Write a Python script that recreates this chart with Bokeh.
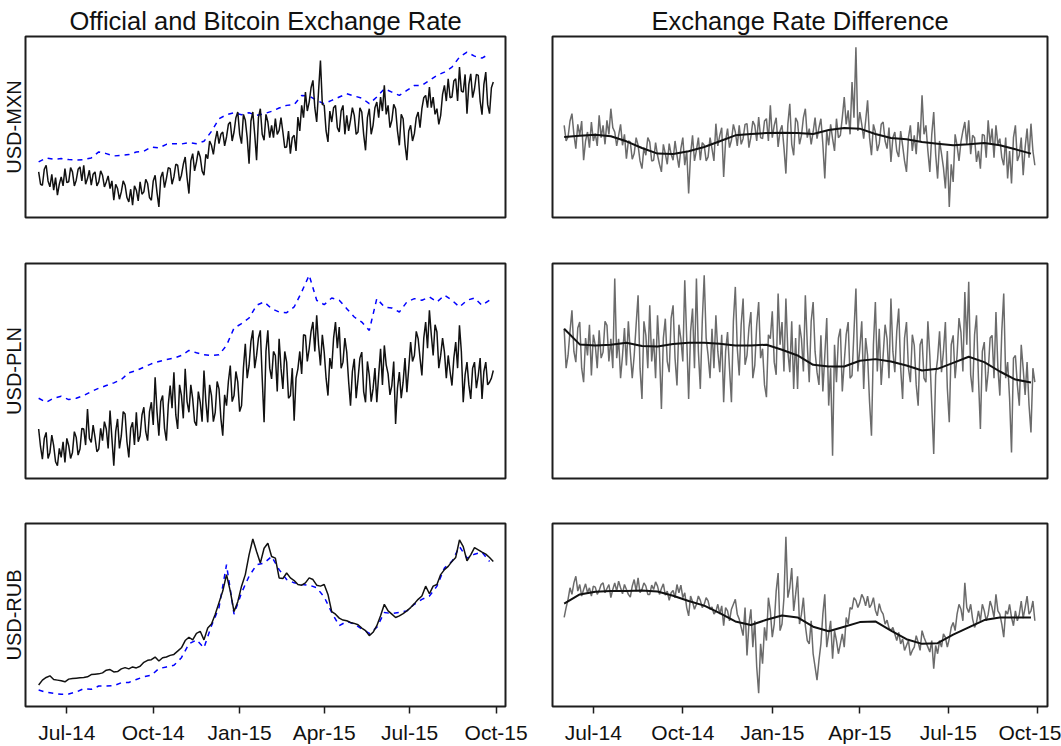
import pandas as pd
from datetime import datetime
from bokeh.plotting import figure
from bokeh.layouts import column, row
from bokeh.models import Range1d, FixedTicker, DatetimeTickFormatter, Title
from bokeh.embed import file_html
from bokeh.resources import INLINE

FONT = "Liberation Sans"

# ---------------- data (arbitrary index units) ----------------
col_titles = ["Official and Bitcoin Exchange Rate", "Exchange Rate Difference"]
pair_names = ["USD-MXN", "USD-PLN", "USD-RUB"]
tick_dates = ["2014-07-01", "2014-10-01", "2015-01-01", "2015-04-01", "2015-07-01", "2015-10-01"]
tick_labels = ["Jul-14", "Oct-14", "Jan-15", "Apr-15", "Jul-15", "Oct-15"]

dates_2d = pd.date_range("2014-06-01", periods=243, freq="2D")
dates_4d = pd.date_range("2014-06-01", periods=122, freq="4D")
dates_8d = pd.date_range("2014-06-01", periods=61, freq="8D")
dates_16d = pd.date_range("2014-06-01", periods=31, freq="16D")

mxn_bitcoin = [137, 100, 97, 145, 157, 110, 92, 130, 82, 120, 67, 100, 122, 95, 147, 105, 107, 150, 137, 95,
               112, 145, 152, 110, 157, 100, 117, 142, 97, 130, 137, 95, 107, 140, 127, 92, 107, 125, 87, 110,
               52, 100, 87, 55, 77, 110, 97, 60, 47, 85, 37, 95, 82, 50, 107, 70, 77, 115, 102, 60,
               52, 110, 127, 75, 32, 120, 137, 90, 117, 150, 147, 100, 122, 160, 157, 110, 127, 160, 182, 120,
               72, 170, 192, 140, 167, 200, 182, 140, 127, 190, 177, 230, 217, 190, 232, 260, 222, 250, 257, 215,
               242, 280, 287, 230, 257, 300, 317, 250, 222, 310, 292, 240, 162, 290, 317, 250, 172, 300, 327, 250,
               232, 310, 287, 240, 277, 240, 297, 250, 262, 300, 257, 210, 212, 260, 192, 240, 247, 200, 302, 260,
               337, 300, 377, 320, 347, 390, 412, 330, 287, 380, 472, 340, 337, 260, 227, 320, 287, 330, 337, 270,
               257, 320, 337, 250, 307, 260, 292, 330, 307, 250, 257, 330, 317, 250, 202, 300, 327, 250, 277, 330,
               347, 300, 362, 320, 397, 310, 337, 270, 292, 340, 327, 260, 217, 310, 297, 220, 172, 260, 277, 230,
               252, 300, 317, 270, 327, 360, 367, 330, 392, 330, 362, 310, 327, 280, 307, 370, 397, 350, 417, 360,
               362, 410, 417, 350, 452, 380, 377, 430, 312, 400, 432, 360, 387, 430, 427, 350, 309, 400, 437, 340,
               312, 390, 407]
mxn_official = [167, 179, 175, 177, 174, 173, 174, 179, 197, 192,
                185, 187, 189, 197, 199, 212, 209, 220, 222, 221,
                225, 222, 229, 259, 297, 309, 315, 309, 315, 307,
                312, 319, 329, 337, 339, 367, 365, 352, 342, 352,
                362, 372, 365, 359, 342, 362, 387, 377, 367, 382,
                397, 397, 412, 427, 437, 452, 482, 497, 485, 479,
                492]
mxn_diff = [277, 230, 242, 290, 312, 250, 207, 280, 247, 290, 172, 230, 257, 210, 287, 230, 252, 215, 307, 240,
            277, 220, 292, 250, 327, 270, 257, 215, 247, 280, 217, 250, 177, 230, 227, 175, 192, 240, 217, 170,
            147, 210, 187, 240, 227, 170, 172, 225, 187, 160, 137, 220, 192, 160, 222, 190, 172, 230, 187, 150,
            207, 240, 157, 200, 72, 190, 247, 170, 202, 240, 172, 225, 217, 170, 182, 240, 207, 170, 282, 215,
            247, 270, 122, 230, 267, 210, 232, 280, 257, 215, 277, 220, 237, 280, 282, 210, 242, 290, 277, 230,
            302, 240, 237, 290, 297, 230, 337, 240, 277, 300, 212, 260, 277, 210, 132, 280, 342, 220, 187, 300,
            287, 220, 247, 300, 327, 240, 267, 220, 257, 300, 237, 270, 297, 220, 117, 260, 217, 280, 237, 200,
            297, 240, 247, 300, 362, 280, 322, 250, 407, 300, 512, 260, 317, 280, 237, 290, 352, 240, 187, 280,
            257, 200, 222, 280, 287, 230, 207, 270, 167, 240, 257, 200, 182, 260, 217, 170, 137, 240, 277, 200,
            247, 190, 287, 230, 367, 250, 277, 200, 137, 250, 317, 190, 117, 230, 192, 150, 87, 200, 32, 160,
            107, 250, 217, 170, 227, 260, 287, 220, 292, 190, 247, 240, 167, 200, 147, 250, 247, 180, 292, 220,
            267, 180, 277, 220, 237, 180, 157, 240, 117, 200, 102, 240, 277, 170, 187, 240, 127, 210, 267, 180,
            282, 200, 157]
mxn_trend = [242, 246, 249, 244, 229, 209, 192, 191, 199, 212, 229, 247, 251, 254, 255, 254,
             251, 263, 269, 267, 251, 239, 235, 227, 222, 217, 220, 224, 217, 205, 192]

pln_bitcoin = [148, 95, 58, 120, 138, 60, 78, 130, 98, 50, 38, 90, 63, 110, 48, 120, 98, 60, 78, 140,
               123, 70, 88, 150, 148, 100, 208, 120, 108, 160, 123, 80, 88, 150, 113, 170, 148, 90, 203, 120,
               38, 140, 178, 90, 128, 200, 193, 110, 63, 150, 168, 100, 198, 110, 128, 190, 213, 140, 113, 200,
               228, 160, 303, 200, 128, 230, 248, 150, 113, 220, 278, 210, 318, 190, 148, 280, 248, 180, 328, 230,
               198, 280, 238, 170, 158, 260, 228, 170, 323, 230, 168, 280, 248, 170, 198, 290, 268, 180, 128, 250,
               218, 290, 338, 230, 248, 320, 288, 200, 218, 330, 403, 300, 338, 410, 443, 330, 368, 420, 443, 300,
               168, 380, 443, 330, 298, 380, 368, 260, 418, 330, 268, 380, 348, 240, 248, 330, 173, 300, 328, 380,
               313, 430, 428, 350, 388, 440, 468, 380, 488, 400, 338, 430, 378, 300, 248, 360, 328, 420, 468, 390,
               453, 330, 348, 420, 378, 290, 218, 320, 358, 240, 298, 360, 378, 260, 228, 350, 308, 230, 268, 330,
               228, 310, 388, 280, 398, 340, 313, 250, 278, 350, 163, 270, 318, 240, 288, 360, 258, 330, 408, 350,
               368, 440, 418, 360, 308, 420, 468, 390, 503, 430, 368, 460, 438, 330, 368, 420, 378, 300, 368, 320,
               278, 360, 408, 330, 458, 380, 228, 310, 348, 280, 238, 330, 348, 270, 308, 360, 238, 320, 348, 280,
               288, 300, 323]
pln_official = [240, 228, 240, 246, 236, 240, 248, 260, 270, 278,
                286, 296, 316, 323, 333, 343, 350, 356, 360, 368,
                383, 376, 370, 368, 370, 398, 450, 463, 480, 518,
                528, 508, 498, 496, 513, 558, 608, 533, 520, 540,
                533, 508, 483, 468, 443, 538, 513, 510, 498, 528,
                538, 533, 543, 528, 548, 533, 513, 533, 540, 518,
                533]
pln_diff = [448, 330, 368, 440, 503, 380, 348, 450, 468, 330, 288, 420, 368, 460, 308, 430, 398, 330, 443, 360,
            378, 470, 458, 350, 418, 330, 598, 360, 418, 300, 368, 450, 338, 470, 378, 300, 368, 460, 548, 330,
            238, 470, 428, 330, 518, 350, 418, 300, 488, 380, 208, 420, 478, 350, 318, 480, 518, 360, 278, 460,
            418, 350, 593, 420, 238, 440, 508, 330, 598, 380, 268, 470, 608, 420, 368, 300, 448, 330, 488, 380,
            318, 430, 228, 380, 438, 330, 228, 470, 573, 390, 308, 460, 538, 340, 368, 450, 498, 300, 338, 460,
            528, 360, 388, 280, 243, 430, 418, 500, 348, 310, 553, 400, 468, 320, 538, 380, 318, 470, 268, 420,
            268, 460, 418, 320, 548, 400, 288, 470, 528, 380, 318, 280, 428, 260, 368, 480, 218, 330, 68, 400,
            288, 420, 448, 260, 348, 430, 468, 300, 308, 440, 568, 320, 388, 470, 268, 420, 368, 230, 128, 400,
            528, 320, 448, 280, 368, 460, 418, 300, 538, 380, 318, 440, 508, 330, 238, 420, 468, 330, 288, 430,
            398, 280, 218, 400, 418, 300, 288, 470, 368, 220, 73, 310, 358, 440, 318, 380, 468, 270, 168, 400,
            428, 300, 368, 480, 438, 320, 558, 400, 588, 310, 258, 430, 488, 300, 148, 380, 408, 260, 318, 420,
            428, 300, 498, 330, 248, 440, 553, 300, 348, 240, 78, 360, 368, 280, 218, 400, 328, 250, 348, 220,
            138, 330, 288]
pln_trend = [448, 401, 398, 400, 406, 396, 395, 402, 406, 406, 403, 398, 398, 400, 385, 368,
             340, 335, 335, 352, 357, 350, 338, 323, 328, 346, 364, 348, 320, 296, 287]

rub_bitcoin = [65, 80, 88, 93, 82, 80, 78, 75, 83, 85,
               86, 87, 88, 90, 97, 98, 99, 102, 110, 112,
               105, 106, 114, 118, 114, 120, 117, 122, 134, 140,
               142, 150, 138, 148, 150, 155, 158, 168, 178, 200,
               210, 202, 222, 228, 202, 238, 250, 280, 315, 350,
               400, 350, 288, 318, 365, 400, 460, 508, 470, 435,
               480, 495, 455, 450, 390, 388, 405, 390, 382, 370,
               368, 375, 390, 385, 368, 365, 370, 340, 288, 280,
               268, 262, 260, 255, 252, 248, 238, 230, 215, 225,
               245, 275, 310, 290, 280, 270, 275, 282, 290, 300,
               312, 325, 335, 365, 342, 365, 370, 400, 415, 425,
               440, 452, 505, 485, 442, 460, 482, 475, 468, 462,
               452, 440]
rub_official = [50, 43, 40, 37, 38, 44, 54, 52, 62, 62,
                63, 72, 73, 82, 90, 95, 115, 120, 125, 148,
                190, 202, 178, 245, 300, 430, 280, 345, 395, 430,
                435, 455, 415, 385, 375, 370, 368, 360, 332, 285,
                245, 258, 250, 235, 222, 240, 285, 282, 285, 290,
                310, 325, 335, 365, 420, 440, 485, 450, 462, 468,
                440]
rub_diff = [270, 300, 325, 360, 340, 375, 395, 350, 370, 335, 355, 372, 345, 360, 335, 365, 362, 340, 352, 370,
            375, 345, 358, 370, 330, 355, 375, 350, 380, 360, 342, 370, 355, 340, 332, 365, 385, 350, 390, 345,
            355, 375, 365, 340, 340, 368, 355, 378, 365, 340, 358, 372, 338, 350, 322, 345, 352, 330, 370, 345,
            368, 330, 345, 300, 275, 335, 318, 295, 310, 335, 322, 300, 310, 330, 320, 295, 302, 280, 288, 310,
            280, 305, 245, 300, 290, 260, 295, 310, 325, 280, 265, 240, 215, 300, 155, 250, 295, 180, 260, 120,
            40, 190, 130, 240, 200, 330, 290, 210, 250, 350, 405, 230, 250, 330, 515, 330, 360, 420, 290, 340,
            395, 250, 280, 330, 245, 200, 190, 260, 160, 120, 80, 140, 190, 280, 340, 180, 220, 260, 145, 230,
            200, 160, 190, 220, 180, 270, 250, 300, 295, 330, 322, 300, 315, 340, 328, 305, 335, 300, 310, 330,
            292, 275, 312, 290, 280, 250, 262, 238, 230, 240, 220, 200, 225, 190, 205, 170, 185, 200, 155, 170,
            180, 215, 195, 170, 230, 210, 195, 180, 165, 200, 115, 185, 160, 200, 180, 220, 210, 180, 205, 240,
            255, 230, 280, 310, 295, 260, 375, 300, 285, 310, 265, 240, 255, 290, 260, 310, 290, 260, 280, 320,
            300, 270, 340, 290, 280, 250, 210, 290, 280, 310, 270, 245, 290, 260, 280, 320, 268, 300, 335, 280,
            290, 320, 260]
rub_trend = [312, 340, 348, 350, 350, 352, 349, 336, 320, 306, 283, 258, 247, 263, 276, 270,
             242, 228, 242, 256, 258, 230, 204, 190, 192, 218, 240, 262, 270, 270, 270]

# y extents of each row (same index units as the series)
row_ymax = [544, 643, 555]

# ---------------- layout / style ----------------
BLACK = "#111111"
GRAY = "#6b6b6b"
BLUE = "#0000ff"
FRAME = "#1e1e1e"

tick_ms = [pd.Timestamp(t).value // 10**6 for t in tick_dates]

left_xr = (datetime(2014, 5, 18), datetime(2015, 10, 11))
right_xr = (datetime(2014, 5, 20), datetime(2015, 10, 11))

# (canvas width, border left, frame width, border right)
cols = [(528, 25, 480, 23), (533, 24, 495, 14)]
# (canvas height, border top, frame height, border bottom)
rows_geo = [(240, 36, 181, 23), (260, 23, 215, 22), (246, 23, 185, 38)]


def make_fig(ci, ri):
    cw, bl, fw, br = cols[ci]
    ch, bt, fh, bb = rows_geo[ri]
    bottom = ri == 2
    xr = left_xr if ci == 0 else right_xr
    p = figure(width=cw, height=ch,
               min_border_left=bl, min_border_right=br,
               min_border_top=bt, min_border_bottom=bb,
               x_axis_type="datetime",
               x_axis_location="below" if bottom else None,
               y_axis_location=None,
               x_range=Range1d(xr[0], xr[1]),
               y_range=Range1d(0, row_ymax[ri]),
               toolbar_location=None, output_backend="svg")
    p.outline_line_color = FRAME
    p.outline_line_width = 2
    p.background_fill_color = "white"
    p.border_fill_color = "white"
    p.grid.visible = False
    if bottom:
        ax = p.xaxis[0]
        ax.ticker = FixedTicker(ticks=tick_ms)
        ax.formatter = DatetimeTickFormatter(days="%b-%y", months="%b-%y", years="%b-%y")
        ax.major_label_overrides = {ms: lab for ms, lab in zip(tick_ms, tick_labels)}
        ax.axis_line_color = None
        ax.major_tick_line_color = FRAME
        ax.major_tick_line_width = 1.5
        ax.major_tick_in = 0
        ax.major_tick_out = 7
        ax.minor_tick_line_color = None
        ax.major_label_standoff = 7
        ax.major_label_text_font = FONT
        ax.major_label_text_font_size = "21px"
        ax.major_label_text_color = BLACK
    if ri == 0:
        p.add_layout(Title(text=col_titles[ci], align="center", standoff=4,
                           text_font=FONT, text_font_size="25.5px", text_font_style="normal",
                           text_color=BLACK), "above")
    if ci == 0:
        p.add_layout(Title(text=pair_names[ri], align="center", standoff=1,
                           text_font=FONT, text_font_size="20px", text_font_style="normal",
                           text_color=BLACK), "left")
    return p


left_series = [(mxn_bitcoin, dates_2d, mxn_official),
               (pln_bitcoin, dates_2d, pln_official),
               (rub_bitcoin, dates_4d, rub_official)]
right_series = [(mxn_diff, mxn_trend), (pln_diff, pln_trend), (rub_diff, rub_trend)]

grid_rows = []
for ri in range(3):
    pl = make_fig(0, ri)
    btc, btc_dates, off = left_series[ri]
    pl.line(dates_8d, off, line_color=BLUE, line_width=1.5, line_dash="5 5")
    pl.line(btc_dates, btc, line_color=BLACK, line_width=1.5)

    pr = make_fig(1, ri)
    diff, trend = right_series[ri]
    pr.line(dates_2d, diff, line_color=GRAY, line_width=1.5)
    pr.line(dates_16d, trend, line_color=BLACK, line_width=2)
    grid_rows.append(row(pl, pr, spacing=0))

layout = column(*grid_rows, spacing=0)

open("out.html", "w").write(file_html(layout, INLINE))
